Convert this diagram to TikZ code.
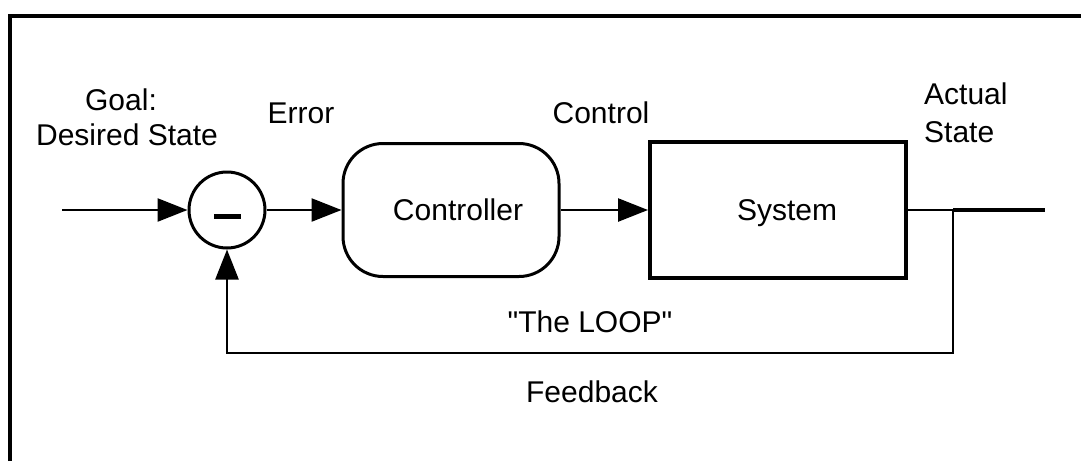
\documentclass[tikz,border=0pt]{standalone}
\usepackage{fontspec}
\setmainfont{Liberation Sans}[Ligatures=TeXOff]
\usetikzlibrary{arrows.meta}
\tikzset{
  lbl/.style={inner sep=0pt, font=\fontsize{30}{36}\selectfont, anchor=base},
  conn/.style={line width=2.5pt},
  arr/.style={conn, -{Triangle[length=30pt,width=23pt]}},
  blockctl/.style={draw, line width=3pt, rounded corners=40pt, minimum width=216pt, minimum height=133pt, inner sep=0pt},
  blocksys/.style={draw, line width=4pt, minimum width=256pt, minimum height=136pt, inner sep=0pt},
  sumc/.style={draw, circle, line width=3pt, minimum size=76pt, inner sep=0pt},
}
\begin{document}
\begin{tikzpicture}[x=1pt,y=-1pt]
\useasboundingbox (0,0) rectangle (1081,461);
\fill[white] (0,0) rectangle (1081,461);
% frame
\draw[line width=3.5pt] (10,461) -- (10,16) -- (1081,16);
% blocks
\node[sumc] (sum) at (227,210) {};
\draw[line width=5pt] (214,216) -- (241,216);
\node[blockctl] (ctl) at (451,210) {};
\node[blocksys] (sys) at (778,210) {};
\coordinate (in) at (62,210);
\coordinate (out) at (1045,210);
\coordinate (br) at (953,210);
\coordinate (fb) at (953,353);
% texts
\node[lbl] (goal) at (121,110) {Goal:};
\node[lbl] (desired) at (127,145) {Desired State};
\node[lbl] (err) at (301,123) {Error};
\node[lbl] (ctrl) at (601,123) {Control};
\node[lbl, anchor=base west] (act) at (924,104) {Actual};
\node[lbl, anchor=base west] (st) at (924,142) {State};
\node[lbl] (ctltxt) at (458,220) {Controller};
\node[lbl] (systxt) at (787,220) {System};
\node[lbl] (loop) at (590,332) {"The LOOP"};
\node[lbl] (feed) at (592,402) {Feedback};
% connectors
\draw[arr] (in) -- (sum.west);
\draw[arr] (sum.east) -- (ctl.west);
\draw[arr] (ctl.east) -- (sys.west);
\draw[line width=2.5pt] (sys.east) -- (br);
\draw[line width=4pt] (br) -- (out);
\draw[arr] (br) -- (fb) -- (fb -| sum.south) -- (sum.south);
\end{tikzpicture}
\end{document}
